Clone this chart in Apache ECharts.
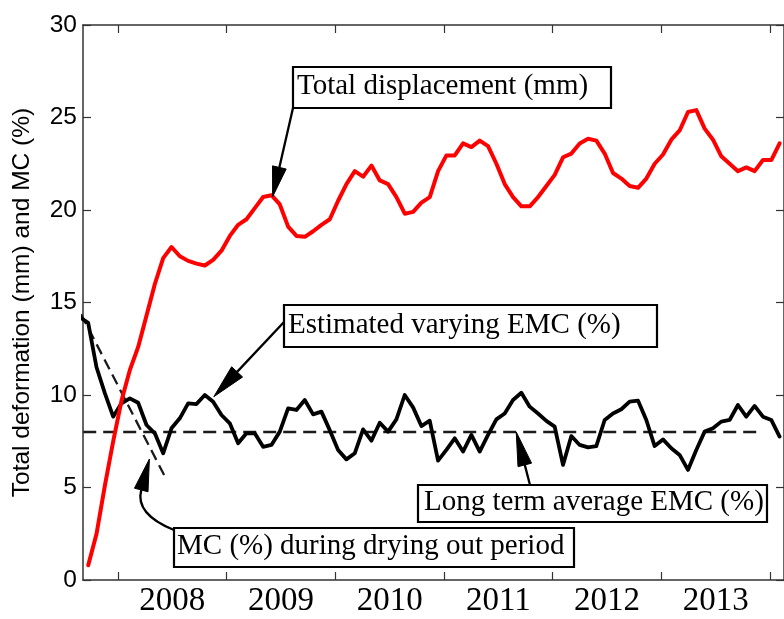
<!DOCTYPE html>
<html>
<head>
<meta charset="utf-8">
<script src="https://cdn.jsdelivr.net/npm/echarts@6/dist/echarts.min.js"></script>
<style>
  html, body { margin: 0; padding: 0; background: #fff; }
  #chart { width: 784px; height: 619px; }
</style>
</head>
<body>
<div id="chart"></div>
<script>
// Four-weekly readings, time in decimal years
const stepYears = 28 / 365.25;
const dispStart = 2007.726;
const emcStart = 2007.649;

// Total displacement (mm)
const totalDisplacement = [
  0.8, 2.5, 5.1, 7.5, 9.7, 11.35, 12.6, 14.3, 16.0, 17.4,
  18.0, 17.5, 17.25, 17.1, 17.0, 17.3, 17.8, 18.6, 19.2, 19.5,
  20.1, 20.7, 20.8, 20.3, 19.1, 18.6, 18.55, 18.85, 19.2, 19.5,
  20.5, 21.4, 22.1, 21.8, 22.4, 21.6, 21.4, 20.7, 19.8, 19.9,
  20.4, 20.7, 22.1, 22.95, 22.95, 23.6, 23.4, 23.75, 23.45, 22.5,
  21.4, 20.7, 20.2, 20.2, 20.7, 21.3, 21.9, 22.85, 23.05, 23.6,
  23.85, 23.75, 23.05, 22.0, 21.7, 21.3, 21.2, 21.7, 22.5, 23.0,
  23.8, 24.3, 25.3, 25.4, 24.4, 23.8, 22.9, 22.5, 22.1, 22.3,
  22.1, 22.7, 22.7, 23.6
];

// Estimated varying EMC (%)
const varyingEMC = [
  14.2,
  13.9, 11.5, 10.1, 8.83, 9.55, 9.82, 9.58, 8.38, 7.93, 6.85,
  8.2, 8.74, 9.55, 9.51, 10.0, 9.64, 8.92, 8.47, 7.39, 7.93,
  7.93, 7.2, 7.3, 8.02, 9.28, 9.19, 9.73, 8.95, 9.1, 8.1,
  7.03, 6.52, 6.85, 8.14, 7.53, 8.5, 8.02, 8.68, 10.0, 9.33,
  8.32, 8.61, 6.45, 7.03, 7.66, 6.94, 7.84, 6.94, 7.84, 8.68,
  9.0, 9.73, 10.12, 9.37, 9.0, 8.6, 8.29, 6.22, 7.78, 7.3,
  7.17, 7.24, 8.65, 9.0, 9.23, 9.64, 9.7, 8.65, 7.24, 7.6,
  7.12, 6.76, 5.95, 7.03, 8.02, 8.2, 8.56, 8.65, 9.46, 8.83,
  9.41, 8.83, 8.65, 7.75
];

// Long term average EMC (%)
const emcAverage = 8.0;
const emcAverageSpan = [2007.68, 2013.93];

// MC (%) during the drying out period
const dryingYears = [2007.66, 2008.44];
const dryingMC = [14.37, 5.5];

// Axis marks
const yearTicks = [2008, 2009, 2010, 2011, 2012, 2013, 2014];
const yearLabels = [2008, 2009, 2010, 2011, 2012, 2013];
const xRange = [2007.678, 2014.129];
const yRange = [0, 30];
const yStep = 5;

const seriesPairs = (start, values) => values.map((v, i) => [start + i * stepYears, v]);

const AXIS_COLOR = '#333';
const SERIF = '"Liberation Serif", "Times New Roman", serif';
const SANS = '"Liberation Sans", Arial, sans-serif';

const chart = echarts.init(document.getElementById('chart'), null, { renderer: 'canvas' });

const xAxisBase = {
  type: 'value',
  min: xRange[0],
  max: xRange[1],
  splitLine: { show: false },
  axisLine: { show: true, onZero: false, lineStyle: { color: AXIS_COLOR, width: 1.5 } },
  axisTick: { show: true, inside: true, length: 8, customValues: yearTicks, lineStyle: { color: AXIS_COLOR, width: 1.2 } }
};
const yAxisBase = {
  type: 'value',
  min: yRange[0],
  max: yRange[1],
  interval: yStep,
  splitLine: { show: false },
  axisLine: { show: true, onZero: false, lineStyle: { color: AXIS_COLOR, width: 1.5 } },
  axisTick: { show: true, inside: true, length: 8, lineStyle: { color: AXIS_COLOR, width: 1.2 } }
};

chart.setOption({
  animation: false,
  backgroundColor: '#fff',
  grid: { left: 83, right: -6, top: 25, bottom: 39, containLabel: false },
  xAxis: [
    Object.assign({}, xAxisBase, {
      position: 'bottom',
      axisLabel: {
        show: true,
        customValues: yearLabels.map(y => y + 0.5),
        formatter: v => String(Math.floor(v)),
        margin: 5,
        color: '#000',
        fontFamily: SERIF,
        fontSize: 33
      }
    }),
    Object.assign({}, xAxisBase, { position: 'top', axisLabel: { show: false } })
  ],
  yAxis: [
    Object.assign({}, yAxisBase, {
      position: 'left',
      name: 'Total deformation (mm) and MC (%)',
      nameLocation: 'middle',
      nameRotate: 90,
      nameGap: 48,
      nameTextStyle: { color: '#000', fontFamily: SANS, fontSize: 24.5 },
      axisLabel: { show: true, margin: 6, color: '#000', fontFamily: SANS, fontSize: 24.5 }
    }),
    Object.assign({}, yAxisBase, { position: 'right', axisLabel: { show: false } })
  ],
  series: [
    {
      name: 'Long term average EMC (%)',
      type: 'line',
      data: emcAverageSpan.map(x => [x, emcAverage]),
      showSymbol: false,
      lineStyle: { color: '#1a1a1a', width: 2.4, type: [13, 7] },
      z: 2
    },
    {
      name: 'MC (%) during drying out period',
      type: 'line',
      data: dryingYears.map((x, i) => [x, dryingMC[i]]),
      showSymbol: false,
      lineStyle: { color: '#1a1a1a', width: 2.3, type: [11, 6] },
      z: 2
    },
    {
      name: 'Estimated varying EMC (%)',
      type: 'line',
      data: seriesPairs(emcStart, varyingEMC),
      showSymbol: false,
      lineStyle: { color: '#000', width: 3.8, join: 'round', cap: 'round' },
      z: 3
    },
    {
      name: 'Total displacement (mm)',
      type: 'line',
      data: seriesPairs(dispStart, totalDisplacement),
      showSymbol: false,
      lineStyle: { color: '#ff0000', width: 4, join: 'round', cap: 'round' },
      z: 4
    }
  ]
});

// Callout boxes with arrows pointing at the curves
const notes = [
  { text: 'Total displacement (mm)', box: [293, 67, 318, 41], pad: 4, from: [293, 108], tip: [2009.423, 20.72], head: [30, 14] },
  { text: 'Estimated varying EMC (%)', box: [284, 305, 373, 42], pad: 4, from: [284, 322], tip: [2008.882, 9.91], head: [34, 15] },
  { text: 'Long term average EMC (%)', box: [418, 485, 349, 37], pad: 6, from: [530, 485], tip: [2011.665, emcAverage], head: [34, 14] },
  { text: 'MC (%) during drying out period', box: [174, 528, 400, 39], pad: 3, from: [174, 530], tip: [2008.289, 6.54], head: [32, 14], curve: [[147, 519], [137, 506]] }
];

const graphics = [];
notes.forEach(n => {
  const tip = chart.convertToPixel({ xAxisIndex: 0, yAxisIndex: 0 }, n.tip);
  const ref = n.curve ? n.curve[1] : n.from;
  let dx = tip[0] - ref[0], dy = tip[1] - ref[1];
  const len = Math.hypot(dx, dy);
  dx /= len; dy /= len;
  const base = [tip[0] - dx * n.head[0], tip[1] - dy * n.head[0]];
  const hw = n.head[1] / 2;
  const lineStyle = { stroke: '#000', lineWidth: 2.3, fill: null };
  if (n.curve) {
    graphics.push({
      type: 'bezierCurve', z: 100,
      shape: { x1: n.from[0], y1: n.from[1], cpx1: n.curve[0][0], cpy1: n.curve[0][1], cpx2: n.curve[1][0], cpy2: n.curve[1][1], x2: base[0], y2: base[1] },
      style: lineStyle
    });
  } else {
    graphics.push({
      type: 'line', z: 100,
      shape: { x1: n.from[0], y1: n.from[1], x2: base[0], y2: base[1] },
      style: lineStyle
    });
  }
  graphics.push({
    type: 'polygon', z: 101,
    shape: { points: [tip, [base[0] - dy * hw, base[1] + dx * hw], [base[0] + dy * hw, base[1] - dx * hw]] },
    style: { fill: '#000', stroke: '#000', lineWidth: 1 }
  });
  graphics.push({
    type: 'rect', z: 102,
    shape: { x: n.box[0], y: n.box[1], width: n.box[2], height: n.box[3] },
    style: { fill: '#fff', stroke: '#000', lineWidth: 2.2 }
  });
  graphics.push({
    type: 'text', z: 103,
    x: n.box[0] + n.pad,
    y: n.box[1] + n.box[3] / 2 - 1,
    style: { text: n.text, fill: '#000', fontFamily: SERIF, fontSize: 29, align: 'left', verticalAlign: 'middle' }
  });
});

chart.setOption({ graphic: graphics });
</script>
</body>
</html>
